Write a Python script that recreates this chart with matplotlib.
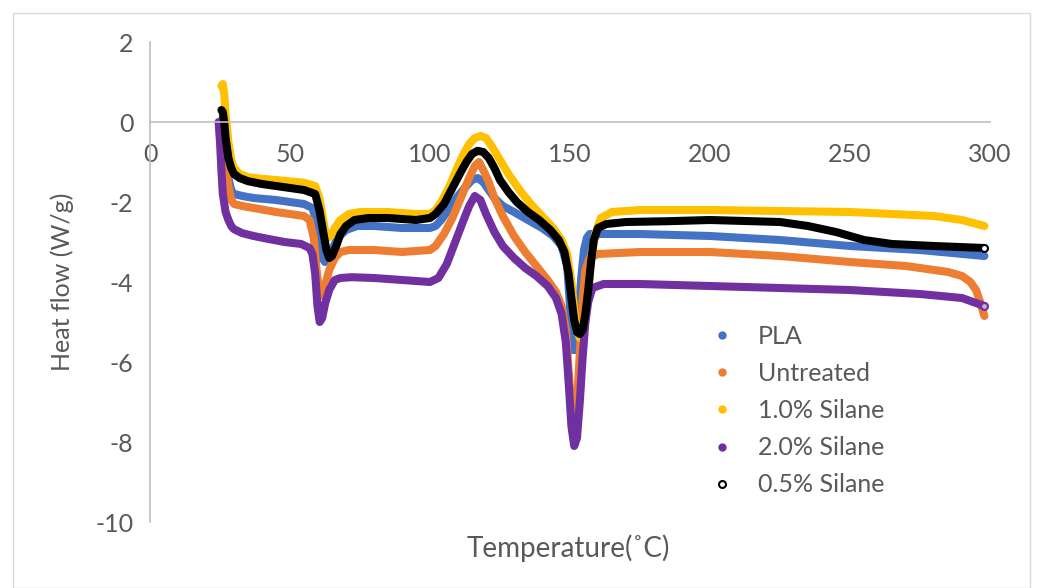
import matplotlib
matplotlib.use('Agg')
import matplotlib.pyplot as plt
from matplotlib.lines import Line2D
from matplotlib.patches import Rectangle

plt.rcParams['font.family'] = ['Lato', 'DejaVu Sans']
plt.rcParams['axes.unicode_minus'] = False

# PLA
pla_t = [26, 26.5, 27, 28, 29, 30, 33, 37, 45, 55, 58, 59.5, 60.5, 61.5, 62.5, 63.5, 65, 67, 70, 74,
         80, 90, 100, 102, 104, 107, 110, 113, 115, 117, 119, 121, 123, 126, 130, 135, 140, 144, 147,
         149, 150, 151, 152, 153, 154, 155, 156, 157, 160, 175, 200, 225, 250, 275, 298]
pla_hf = [0.1, -0.4, -0.9, -1.4, -1.7, -1.8, -1.85, -1.9, -1.95, -2.05, -2.15, -2.5, -3.0, -3.4, -3.5,
          -3.45, -3.2, -2.9, -2.7, -2.6, -2.6, -2.65, -2.65, -2.6, -2.45, -2.15, -1.85, -1.6, -1.45,
          -1.4, -1.5, -1.7, -1.9, -2.1, -2.25, -2.45, -2.65, -2.85, -3.1, -3.6, -4.6, -5.7, -5.7, -4.9,
          -3.9, -3.2, -2.9, -2.8, -2.8, -2.8, -2.85, -2.95, -3.1, -3.2, -3.35]

# Untreated
unt_t = [26, 26.5, 27, 28, 29, 30, 33, 37, 45, 55, 57, 58.5, 59.5, 60.5, 61.5, 62.5, 64, 66, 68, 71,
         80, 90, 100, 102, 105, 108, 111, 114, 116, 117.5, 119, 121, 123, 126, 130, 134, 138, 142, 145,
         147, 148.5, 149.5, 150.5, 151.5, 152.5, 153.5, 154.5, 155.5, 157, 160, 175, 200, 225, 250,
         270, 285, 290, 293, 295, 296.5, 298]
unt_hf = [0.0, -0.5, -1.0, -1.6, -1.95, -2.05, -2.1, -2.15, -2.25, -2.35, -2.45, -2.9, -3.7, -4.3,
          -4.35, -4.1, -3.7, -3.4, -3.25, -3.2, -3.2, -3.25, -3.2, -3.1, -2.8, -2.4, -1.9, -1.4, -1.1,
          -1.0, -1.2, -1.5, -1.9, -2.35, -2.85, -3.25, -3.6, -3.95, -4.25, -4.6, -5.2, -6.2, -7.2, -7.5,
          -7.0, -5.8, -4.5, -3.7, -3.4, -3.3, -3.25, -3.25, -3.35, -3.5, -3.6, -3.75, -3.85, -4.0,
          -4.2, -4.5, -4.85]

# 1.0% Silane
s10_t = [25.5, 26, 26.5, 27, 28, 29, 30, 32, 35, 40, 45, 55, 59, 60.5, 61.5, 62.5, 63.5, 64.5, 66,
         68, 71, 75, 85, 95, 100, 102, 104, 107, 110, 112, 114, 116, 118, 120, 122, 125, 128, 132, 136,
         140, 144, 147, 149, 150.5, 151.5, 152.5, 153.5, 154.5, 155.5, 156.5, 157.5, 159, 161, 165,
         175, 200, 250, 280, 290, 298]
s10_hf = [0.9, 0.95, 0.7, 0.2, -0.5, -0.95, -1.15, -1.3, -1.38, -1.42, -1.45, -1.52, -1.6, -1.9, -2.3,
          -2.7, -2.9, -2.85, -2.65, -2.45, -2.3, -2.25, -2.25, -2.3, -2.3, -2.2, -2.0, -1.6, -1.1,
          -0.8, -0.55, -0.4, -0.35, -0.4, -0.6, -0.95, -1.3, -1.7, -2.05, -2.35, -2.65, -2.95, -3.3,
          -4.0, -4.7, -5.2, -5.4, -5.35, -5.0, -4.3, -3.5, -2.8, -2.4, -2.25, -2.2, -2.2, -2.25, -2.35,
          -2.45, -2.6]

# 2.0% Silane
s20_t = [24.5, 25, 25.5, 26, 27, 28, 29, 30, 33, 37, 42, 48, 54, 57, 58, 59, 59.8, 60.6, 61.5, 62.5,
         64, 66, 68, 72, 80, 90, 100, 103, 106, 109, 112, 114, 116, 118, 120, 123, 126, 130, 134, 138,
         142, 145, 147, 148.5, 149.5, 150.5, 151.5, 152.5, 153.5, 154.5, 155.5, 156.5, 158, 162, 175,
         200, 250, 275, 290, 298]
s20_hf = [0.0, -0.5, -1.2, -1.8, -2.25, -2.45, -2.6, -2.68, -2.78, -2.85, -2.92, -3.0, -3.05, -3.15,
          -3.3, -3.8, -4.6, -5.0, -4.9, -4.55, -4.2, -3.95, -3.9, -3.88, -3.9, -3.95, -4.0, -3.9, -3.55,
          -3.0, -2.45, -2.1, -1.85, -1.95, -2.3, -2.75, -3.1, -3.4, -3.65, -3.85, -4.1, -4.4, -4.8,
          -5.5, -6.5, -7.6, -8.1, -7.9, -7.0, -5.9, -5.0, -4.5, -4.15, -4.05, -4.05, -4.1, -4.2, -4.3,
          -4.4, -4.6]

# 0.5% Silane
s05_t = [25.5, 26, 26.5, 27, 28, 29, 30, 32, 35, 40, 45, 55, 59, 60.5, 62, 63, 64, 65, 66.5, 68, 70,
         73, 78, 85, 95, 100, 102, 105, 108, 111, 113, 115, 117, 119, 121, 123, 125, 128, 131, 135,
         139, 143, 146, 148, 149.5, 150.5, 151.5, 152.5, 153.5, 154.5, 155.5, 156.5, 157.5, 158.5,
         160, 163, 170, 185, 200, 225, 235, 245, 255, 265, 280, 298]
s05_hf = [0.3, 0.25, 0.0, -0.4, -0.9, -1.15, -1.3, -1.4, -1.48, -1.55, -1.6, -1.7, -1.8, -2.2, -2.8,
          -3.2, -3.4, -3.35, -3.1, -2.8, -2.6, -2.45, -2.4, -2.4, -2.45, -2.4, -2.3, -2.05, -1.65,
          -1.25, -1.0, -0.8, -0.72, -0.75, -0.9, -1.15, -1.45, -1.75, -2.0, -2.25, -2.45, -2.7, -2.95,
          -3.25, -3.8, -4.4, -4.95, -5.25, -5.3, -5.2, -4.8, -4.2, -3.5, -2.95, -2.65, -2.55, -2.5,
          -2.48, -2.45, -2.5, -2.6, -2.75, -2.95, -3.05, -3.1, -3.15]

labels = ['PLA', 'Untreated', '1.0% Silane', '2.0% Silane', '0.5% Silane']
colors = ['#4472C4', '#ED7D31', '#FFC000', '#7030A0', '#000000']
series = [(pla_t, pla_hf), (unt_t, unt_hf), (s10_t, s10_hf), (s20_t, s20_hf), (s05_t, s05_hf)]

fig = plt.figure(figsize=(10.38, 5.88), dpi=100)
ax = fig.add_axes([150/1038, 66/588, 840/1038, 480/588])

for (t, hf), c in zip(series, colors):
    ax.plot(t, hf, color=c, lw=5.8, solid_capstyle='round', solid_joinstyle='round')

# end markers (open circles) on last points
ax.plot(s05_t[-1], s05_hf[-1], 'o', ms=5, mfc='white', mec='black', mew=1.5)
ax.plot(s20_t[-1], s20_hf[-1], 'o', ms=5, mfc='#c9a8e0', mec='#7030A0', mew=1.5)

ax.set_xlim(0, 300)
ax.set_ylim(-10, 2)
ax.set_xticks(range(0, 301, 50))
ax.set_yticks(range(-10, 3, 2))

grey = '#BFBFBF'
txt = '#595959'
ax.spines['top'].set_visible(False)
ax.spines['right'].set_visible(False)
ax.spines['left'].set_color(grey)
ax.spines['bottom'].set_color(grey)
ax.spines['bottom'].set_position(('data', 0))
ax.spines['left'].set_linewidth(1.2)
ax.spines['bottom'].set_linewidth(1.2)
ax.tick_params(axis='x', length=0, pad=15, labelsize=18, labelcolor=txt)
ax.tick_params(axis='y', length=0, pad=12, labelsize=18, labelcolor=txt)

ax.set_ylabel('Heat flow (W/g)', fontsize=18, color=txt, labelpad=15)
fig.text(568/1038, 1 - 548/588, 'Temperature(˚C)', fontsize=20, color=txt,
         ha='center', va='center')

handles = [Line2D([], [], ls='none', marker='o', ms=5, color=c) for c in colors]
handles[4] = Line2D([], [], ls='none', marker='o', ms=5, mfc='white', mec='black', mew=1.5)
ax.legend(handles, labels, loc='upper left', bbox_to_anchor=(697/1038, 1 - 312/588),
          bbox_transform=fig.transFigure, frameon=False, fontsize=18, labelcolor=txt,
          handletextpad=0.95, labelspacing=0.57, handlelength=1.0, borderpad=0)

fig.patches.append(Rectangle((13/1038, 0), 1017/1038, 1 - 13/588, transform=fig.transFigure,
                             fill=False, edgecolor='#D9D9D9', lw=1))

fig.savefig('out.png', dpi=100)
